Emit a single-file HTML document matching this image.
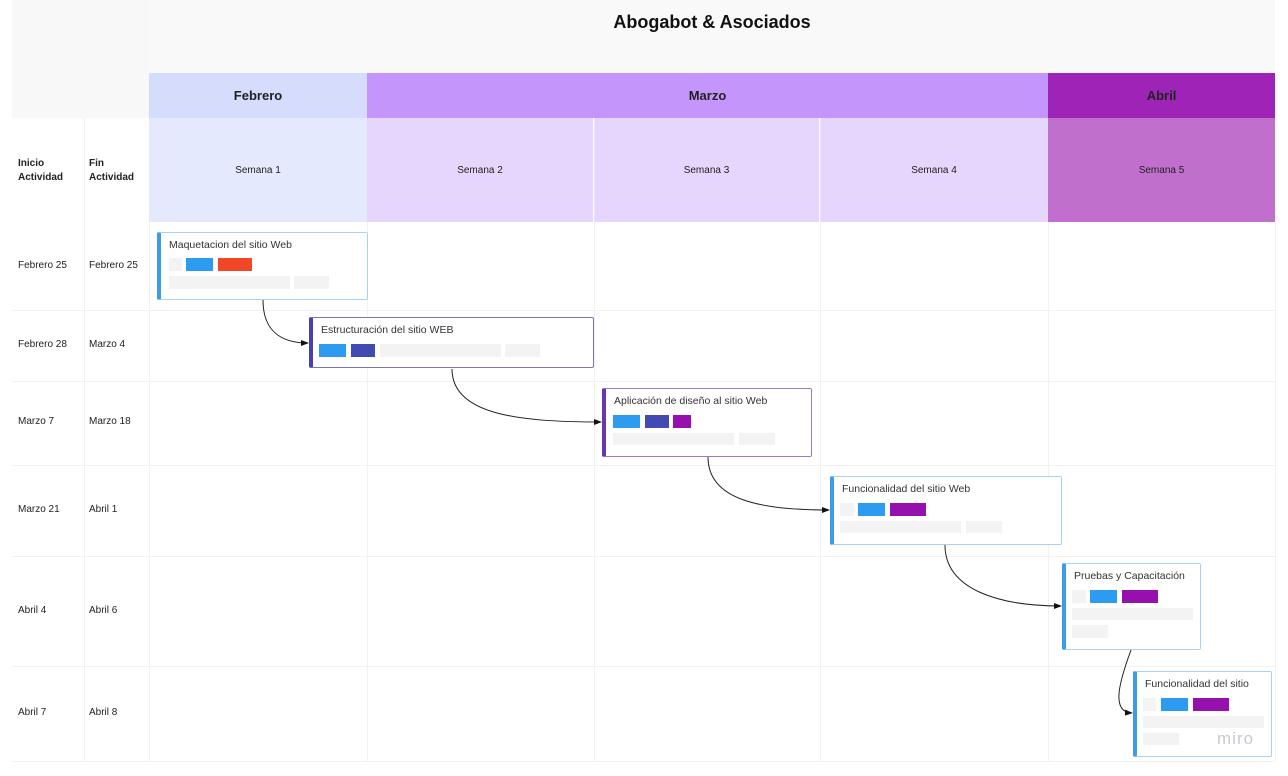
<!DOCTYPE html>
<html><head><meta charset="utf-8"><style>
*{margin:0;padding:0;box-sizing:border-box}
body{width:1288px;height:776px;background:#fff;position:relative;overflow:hidden;font-family:"Liberation Sans","DejaVu Sans",sans-serif;color:#222}
.a{position:absolute}
.c{display:flex;align-items:center;justify-content:center}
.lbl{font-size:10px;color:#222}
.card{position:absolute;background:#fff;border:1px solid #a9d1f6;border-left:4px solid #3d9be9;border-radius:2px}
.card .t{position:absolute;left:8px;top:6px;font-size:10.5px;color:#333;white-space:nowrap}
.b{position:absolute}
</style></head><body>
<div class="a" style="left:12px;top:0;width:1263px;height:118px;background:#f8f8f8"></div>
<div class="a" style="left:149px;top:0;width:1126px;height:73px;background:#f9f9f9"></div>
<div class="a c" style="left:149px;top:0;width:1126px;height:44px;font-weight:bold;font-size:18px;color:#111">Abogabot &amp; Asociados</div>
<div class="a c" style="left:149px;top:73px;width:218px;height:45px;background:#d6dcfb;font-weight:bold;font-size:13px">Febrero</div>
<div class="a c" style="left:367px;top:73px;width:681px;height:45px;background:#c495fb;font-weight:bold;font-size:13px">Marzo</div>
<div class="a c" style="left:1048px;top:73px;width:227px;height:45px;background:#9e24b8;font-weight:bold;font-size:13px">Abril</div>
<div class="a c lbl" style="left:149px;top:118px;width:218px;height:104px;background:#e5e9fd">Semana 1</div>
<div class="a c lbl" style="left:367px;top:118px;width:226px;height:104px;background:#e6d5fd">Semana 2</div>
<div class="a c lbl" style="left:594px;top:118px;width:225px;height:104px;background:#e6d5fd">Semana 3</div>
<div class="a c lbl" style="left:820px;top:118px;width:228px;height:104px;background:#e6d5fd">Semana 4</div>
<div class="a c lbl" style="left:1048px;top:118px;width:227px;height:104px;background:#c070cc">Semana 5</div>
<div class="a lbl" style="left:18px;top:157px;font-weight:bold;line-height:14px">Inicio<br>Actividad</div>
<div class="a lbl" style="left:89px;top:157px;font-weight:bold;line-height:14px">Fin<br>Actividad</div>
<svg class="a" style="left:0;top:0" width="1288" height="776">
<g stroke="#f1f1f1" stroke-width="1">
<line x1="84.5" y1="118" x2="84.5" y2="761"/><line x1="149.5" y1="222" x2="149.5" y2="761"/>
<line x1="367.5" y1="222" x2="367.5" y2="761"/><line x1="594.5" y1="222" x2="594.5" y2="761"/>
<line x1="820.5" y1="222" x2="820.5" y2="761"/><line x1="1048.5" y1="222" x2="1048.5" y2="761"/>
<line x1="1275.5" y1="222" x2="1275.5" y2="761"/>
<line x1="12" y1="310.5" x2="1275" y2="310.5"/><line x1="12" y1="381.5" x2="1275" y2="381.5"/>
<line x1="12" y1="465.5" x2="1275" y2="465.5"/><line x1="12" y1="556.5" x2="1275" y2="556.5"/>
<line x1="12" y1="666.5" x2="1275" y2="666.5"/><line x1="12" y1="761.5" x2="1275" y2="761.5"/>
</g>
<g stroke="#ede2fd" stroke-width="1"><line x1="594.5" y1="118" x2="594.5" y2="222"/><line x1="820.5" y1="118" x2="820.5" y2="222"/></g>
</svg>
<div class="a lbl" style="left:18px;top:260px">Febrero 25</div><div class="a lbl" style="left:89px;top:260px">Febrero 25</div>
<div class="a lbl" style="left:18px;top:339px">Febrero 28</div><div class="a lbl" style="left:89px;top:339px">Marzo 4</div>
<div class="a lbl" style="left:18px;top:416px">Marzo 7</div><div class="a lbl" style="left:89px;top:416px">Marzo 18</div>
<div class="a lbl" style="left:18px;top:504px">Marzo 21</div><div class="a lbl" style="left:89px;top:504px">Abril 1</div>
<div class="a lbl" style="left:18px;top:605px">Abril 4</div><div class="a lbl" style="left:89px;top:605px">Abril 6</div>
<div class="a lbl" style="left:18px;top:707px">Abril 7</div><div class="a lbl" style="left:89px;top:707px">Abril 8</div>

<div class="card" style="left:157px;top:232px;width:211px;height:68px"><div class="t">Maquetacion del sitio Web</div></div>
<div class="b" style="left:169px;top:258px;width:13px;height:13px;background:#f3f3f3"></div>
<div class="b" style="left:186px;top:258px;width:27px;height:13px;background:#2d9bf0"></div>
<div class="b" style="left:218px;top:258px;width:34px;height:13px;background:#f24726"></div>
<div class="b" style="left:169px;top:276px;width:121px;height:13px;background:#f3f3f3"></div>
<div class="b" style="left:294px;top:276px;width:35px;height:13px;background:#f3f3f3"></div>

<div class="card" style="left:309px;top:317px;width:285px;height:51px;border-color:#7a74b8;border-left-color:#4b3fae"><div class="t">Estructuración del sitio WEB</div></div>
<div class="b" style="left:319px;top:344px;width:27px;height:13px;background:#2d9bf0"></div>
<div class="b" style="left:351px;top:344px;width:24px;height:13px;background:#414bb2"></div>
<div class="b" style="left:380px;top:344px;width:121px;height:13px;background:#f3f3f3"></div>
<div class="b" style="left:505px;top:344px;width:35px;height:13px;background:#f3f3f3"></div>

<div class="card" style="left:602px;top:388px;width:210px;height:69px;border-color:#9a7ac6;border-left-color:#6a36b0"><div class="t">Aplicación de diseño al sitio Web</div></div>
<div class="b" style="left:613px;top:415px;width:27px;height:13px;background:#2d9bf0"></div>
<div class="b" style="left:645px;top:415px;width:24px;height:13px;background:#414bb2"></div>
<div class="b" style="left:673px;top:415px;width:18px;height:13px;background:#9510ac"></div>
<div class="b" style="left:613px;top:433px;width:121px;height:12px;background:#f3f3f3"></div>
<div class="b" style="left:739px;top:433px;width:36px;height:12px;background:#f3f3f3"></div>

<div class="card" style="left:830px;top:476px;width:232px;height:69px"><div class="t">Funcionalidad del sitio Web</div></div>
<div class="b" style="left:840px;top:503px;width:14px;height:13px;background:#f3f3f3"></div>
<div class="b" style="left:858px;top:503px;width:27px;height:13px;background:#2d9bf0"></div>
<div class="b" style="left:890px;top:503px;width:36px;height:13px;background:#9510ac"></div>
<div class="b" style="left:840px;top:521px;width:121px;height:12px;background:#f3f3f3"></div>
<div class="b" style="left:966px;top:521px;width:36px;height:12px;background:#f3f3f3"></div>

<div class="card" style="left:1062px;top:563px;width:139px;height:87px"><div class="t">Pruebas y Capacitación</div></div>
<div class="b" style="left:1072px;top:590px;width:14px;height:13px;background:#f3f3f3"></div>
<div class="b" style="left:1090px;top:590px;width:27px;height:13px;background:#2d9bf0"></div>
<div class="b" style="left:1122px;top:590px;width:36px;height:13px;background:#9510ac"></div>
<div class="b" style="left:1072px;top:608px;width:121px;height:12px;background:#f3f3f3"></div>
<div class="b" style="left:1072px;top:625px;width:36px;height:13px;background:#f3f3f3"></div>

<div class="card" style="left:1133px;top:671px;width:139px;height:86px"><div class="t">Funcionalidad del sitio</div></div>
<div class="b" style="left:1143px;top:698px;width:13px;height:13px;background:#f3f3f3"></div>
<div class="b" style="left:1161px;top:698px;width:27px;height:13px;background:#2d9bf0"></div>
<div class="b" style="left:1193px;top:698px;width:36px;height:13px;background:#9510ac"></div>
<div class="b" style="left:1143px;top:716px;width:121px;height:12px;background:#f3f3f3"></div>
<div class="b" style="left:1143px;top:733px;width:36px;height:12px;background:#f3f3f3"></div>
<div class="a" style="left:1217px;top:729px;font-size:17px;color:#c8c8d0;letter-spacing:1px">miro</div>

<svg class="a" style="left:0;top:0" width="1288" height="776">
<defs><marker id="ar" markerWidth="8" markerHeight="6" refX="7" refY="3" orient="auto"><path d="M0,0 L8,3 L0,6z" fill="#111"/></marker></defs>
<g fill="none" stroke="#222" stroke-width="1" marker-end="url(#ar)">
<path d="M263 300 C263 330 280 343 308 343"/>
<path d="M452 369 C452 415 520 422 601 422"/>
<path d="M708 457 C708 500 760 510 829 510"/>
<path d="M945 545 C945 590 1000 606 1061 606"/>
<path d="M1131 650 C1120 680 1110 712 1132 713"/>
</g></svg>
</body></html>
